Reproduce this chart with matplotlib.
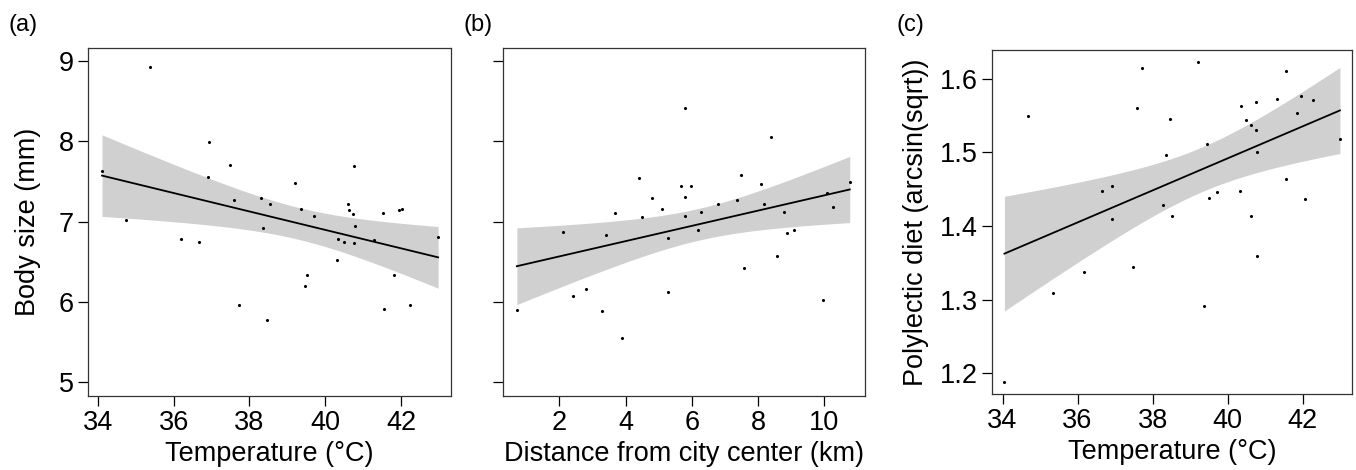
import matplotlib
matplotlib.use('Agg')
import matplotlib.pyplot as plt
import numpy as np

plt.rcParams['font.family'] = ['Liberation Sans', 'DejaVu Sans']

# (a) body size vs temperature
temp_a = [34.11, 35.37, 34.73, 36.19, 36.66, 36.93, 36.91, 37.50, 37.59, 37.73,
          38.30, 38.53, 38.35, 38.47, 39.20, 39.37, 39.71, 39.51, 39.46, 40.31,
          40.35, 40.50, 40.61, 40.62, 40.74, 40.75, 40.78, 40.76, 41.29, 41.52,
          41.55, 41.82, 41.94, 42.03, 42.24, 42.98]
size_a = [7.63, 8.93, 7.02, 6.78, 6.75, 7.99, 7.55, 7.70, 7.27, 5.96,
          7.30, 7.22, 6.92, 5.78, 7.48, 7.16, 7.07, 6.33, 6.20, 6.52,
          6.78, 6.75, 7.22, 7.15, 7.10, 7.69, 6.94, 6.74, 6.77, 7.11,
          5.91, 6.33, 7.14, 7.16, 5.96, 6.81]

# (b) body size vs distance
dist_b = [0.72, 2.10, 2.40, 2.80, 3.30, 3.40, 3.69, 3.90, 4.40, 4.50,
          4.80, 5.09, 5.29, 5.29, 5.69, 5.79, 5.79, 5.79, 5.99, 6.19,
          6.29, 6.78, 7.38, 7.48, 7.58, 8.08, 8.18, 8.39, 8.58, 8.78,
          8.88, 9.08, 9.97, 10.07, 10.27, 10.77]
size_b = [5.90, 6.87, 6.07, 6.16, 5.89, 6.83, 7.11, 5.55, 7.54, 7.06,
          7.30, 7.16, 6.80, 6.12, 7.44, 8.42, 7.31, 7.07, 7.44, 6.90,
          7.12, 7.22, 7.27, 7.58, 6.42, 7.47, 7.22, 8.05, 6.57, 7.12,
          6.86, 6.90, 6.03, 7.36, 7.18, 7.49]

# (c) polylectic diet vs temperature
temp_c = [34.05, 34.69, 35.34, 36.17, 36.64, 36.91, 36.92, 37.48, 37.57, 37.72,
          38.28, 38.35, 38.47, 38.52, 39.20, 39.38, 39.46, 39.51, 39.72, 40.32,
          40.36, 40.50, 40.63, 40.63, 40.75, 40.76, 40.78, 40.79, 41.32, 41.54,
          41.56, 41.85, 41.96, 42.06, 42.27, 42.99]
diet_c = [1.188, 1.550, 1.309, 1.338, 1.447, 1.455, 1.410, 1.345, 1.560, 1.614,
          1.428, 1.496, 1.545, 1.413, 1.623, 1.292, 1.512, 1.438, 1.446, 1.448,
          1.563, 1.544, 1.537, 1.414, 1.568, 1.531, 1.500, 1.359, 1.573, 1.464,
          1.610, 1.553, 1.577, 1.437, 1.571, 1.518]

T_CRIT = 2.032  # t quantile, 0.975, df = 34


def fit_band(x, y):
    x = np.asarray(x)
    y = np.asarray(y)
    slope, icpt = np.polyfit(x, y, 1)
    xs = np.linspace(x.min(), x.max(), 100)
    resid = y - (icpt + slope * x)
    s = np.sqrt(np.sum(resid ** 2) / (len(x) - 2))
    sxx = np.sum((x - x.mean()) ** 2)
    se = s * np.sqrt(1 / len(x) + (xs - x.mean()) ** 2 / sxx)
    yhat = icpt + slope * xs
    return xs, yhat, yhat - T_CRIT * se, yhat + T_CRIT * se


fig = plt.figure(figsize=(13.56, 4.70), dpi=100)
ax_a = fig.add_axes([0.0649, 0.1574, 0.2677, 0.7404])
ax_b = fig.add_axes([0.3709, 0.1574, 0.2670, 0.7404])
ax_c = fig.add_axes([0.7313, 0.1617, 0.2657, 0.7319])

panels = [
    (ax_a, temp_a, size_a, 'Temperature (°C)', 'Body size (mm)', '(a)', -0.220, 1.0675, 13),
    (ax_b, dist_b, size_b, 'Distance from city center (km)', None, '(b)', -0.110, 1.0675, 0),
    (ax_c, temp_c, diet_c, 'Temperature (°C)', 'Polylectic diet (arcsin(sqrt))', '(c)', -0.263, 1.073, 8),
]

for ax, x, y, xl, yl, tag, tx, ty, lpad in panels:
    xs, yhat, lo, hi = fit_band(x, y)
    ax.fill_between(xs, lo, hi, color='#d0d0d0', lw=0, zorder=1)
    ax.plot(xs, yhat, color='black', lw=1.3, zorder=2)
    ax.scatter(x, y, s=5, color='black', lw=0, zorder=3)
    ax.set_xlabel(xl, fontsize=19.5, labelpad=4)
    if yl:
        ax.set_ylabel(yl, fontsize=19.5, labelpad=lpad)
    ax.tick_params(direction='out', length=7, width=0.9, labelsize=19.5, pad=3)
    for sp in ax.spines.values():
        sp.set_linewidth(0.9)
        sp.set_color('#333333')
    ax.text(tx, ty, tag, transform=ax.transAxes,
            fontsize=17, ha='left', va='center')

ax_a.set_xlim(33.74, 43.32)
ax_a.set_ylim(4.83, 9.16)
ax_a.set_xticks([34, 36, 38, 40, 42])
ax_a.set_yticks([5, 6, 7, 8, 9])

ax_b.set_xlim(0.30, 11.23)
ax_b.set_ylim(4.83, 9.16)
ax_b.set_xticks([2, 4, 6, 8, 10])
ax_b.set_yticks([5, 6, 7, 8, 9])
ax_b.set_yticklabels([])

ax_c.set_xlim(33.71, 43.31)
ax_c.set_ylim(1.172, 1.639)
ax_c.set_xticks([34, 36, 38, 40, 42])
ax_c.set_yticks([1.2, 1.3, 1.4, 1.5, 1.6])

plt.savefig('out.png', dpi=100)
